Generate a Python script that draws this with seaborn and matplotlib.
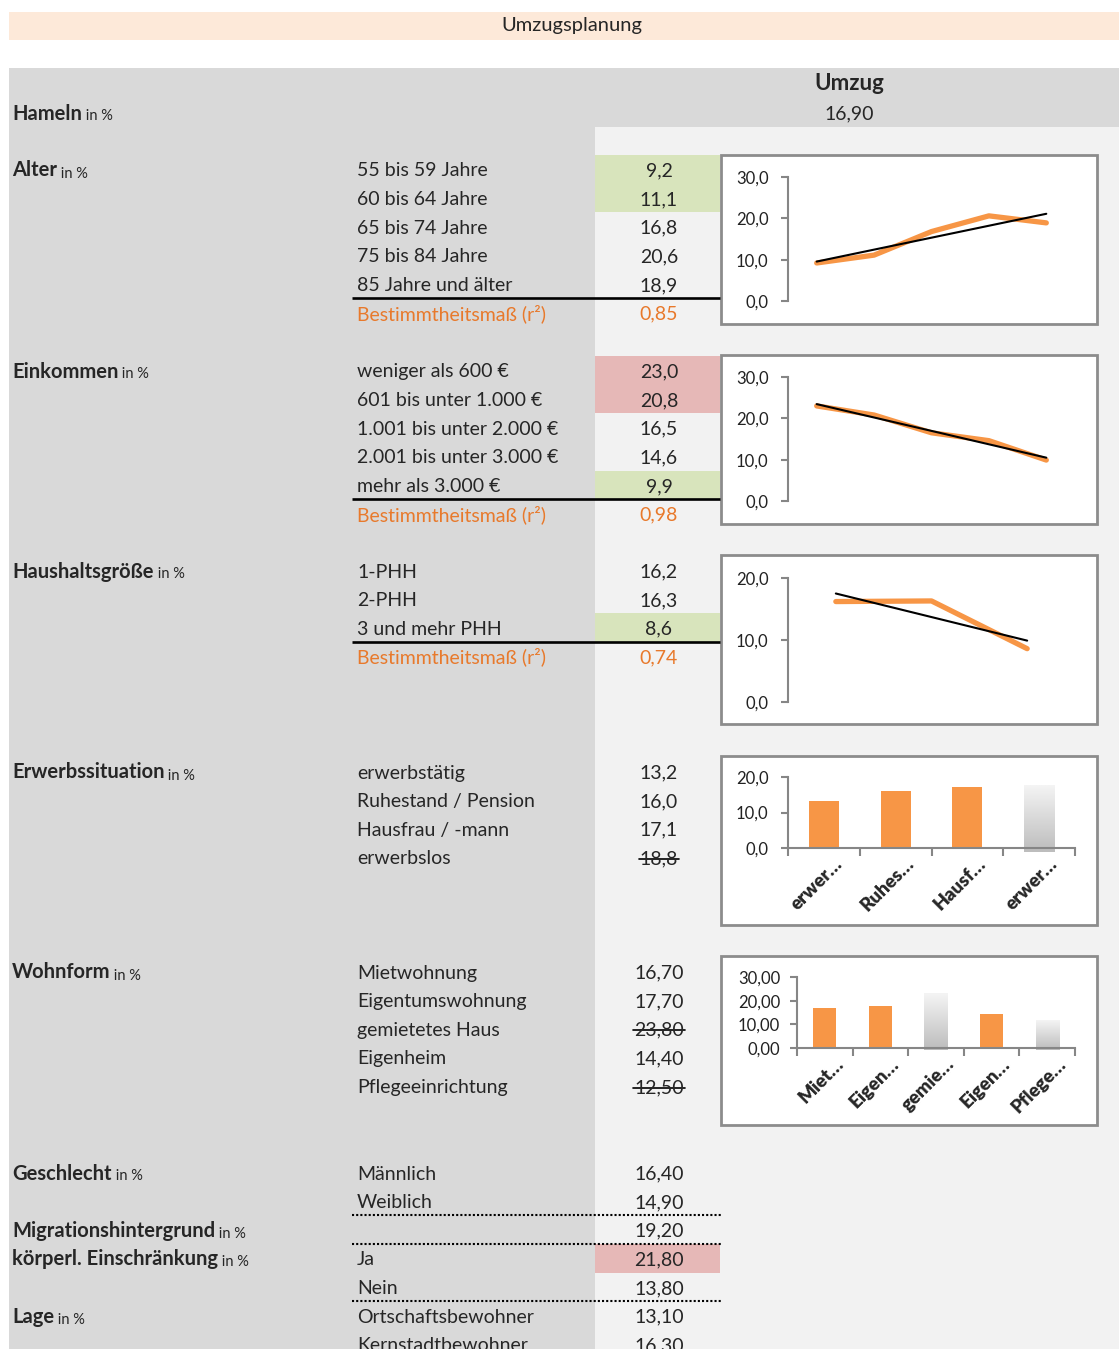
import numpy as np
import pandas as pd
import matplotlib
matplotlib.use("Agg")
import matplotlib.pyplot as plt
import matplotlib.transforms as mtransforms
from matplotlib.patches import Rectangle
from matplotlib.colors import LinearSegmentedColormap
from matplotlib.ticker import FuncFormatter
import seaborn as sns

# ---------------------------------------------------------------- data
title = "Umzugsplanung"
column_title = "Umzug"
hameln_value = 16.9

alter_labels = ["55 bis 59 Jahre", "60 bis 64 Jahre", "65 bis 74 Jahre",
                "75 bis 84 Jahre", "85 Jahre und älter"]
alter_values = [9.2, 11.1, 16.8, 20.6, 18.9]
alter_r2 = 0.85

einkommen_labels = ["weniger als 600 €", "601 bis unter 1.000 €",
                    "1.001 bis unter 2.000 €", "2.001 bis unter 3.000 €",
                    "mehr als 3.000 €"]
einkommen_values = [23.0, 20.8, 16.5, 14.6, 9.9]
einkommen_r2 = 0.98

haushalt_labels = ["1-PHH", "2-PHH", "3 und mehr PHH"]
haushalt_values = [16.2, 16.3, 8.6]
haushalt_r2 = 0.74

erwerb_labels = ["erwerbstätig", "Ruhestand / Pension", "Hausfrau / -mann", "erwerbslos"]
erwerb_short = ["erwer…", "Ruhes…", "Hausf…", "erwer…"]
erwerb_values = [13.2, 16.0, 17.1, 18.8]
erwerb_excluded = [False, False, False, True]

wohn_labels = ["Mietwohnung", "Eigentumswohnung", "gemietetes Haus",
               "Eigenheim", "Pflegeeinrichtung"]
wohn_short = ["Miet…", "Eigen…", "gemie…", "Eigen…", "Pflege…"]
wohn_values = [16.7, 17.7, 23.8, 14.4, 12.5]
wohn_excluded = [False, False, True, False, True]

geschlecht_labels = ["Männlich", "Weiblich"]
geschlecht_values = [16.4, 14.9]
migration_values = [19.2]
einschr_labels = ["Ja", "Nein"]
einschr_values = [21.8, 13.8]
lage_labels = ["Ortschaftsbewohner", "Kernstadtbewohner"]
lage_values = [13.1, 16.3]

# ---------------------------------------------------------------- style
sns.set_theme(style="white")
plt.rcParams['font.family'] = ['Lato', 'DejaVu Sans']

W, H = 1119, 1349
ORANGE = "#F79646"
ORANGE_TXT = "#E8792B"
GREEN = "#D8E4BC"
RED = "#E6B8B7"
DARK = "#D9D9D9"
LIGHT = "#F2F2F2"
PEACH = "#FDE9D9"
AXGRAY = "#868686"
ROW = 28.65
FS = 14
BASE = 6.5  # baseline offset below a row's centre line

fig = plt.figure(figsize=(W / 100, H / 100), dpi=100)
bg = fig.add_axes([0, 0, 1, 1])
bg.set_xlim(0, W)
bg.set_ylim(H, 0)
bg.axis('off')


def px_axes(x0, y0, x1, y1):
    return fig.add_axes([x0 / W, 1 - y1 / H, (x1 - x0) / W, (y1 - y0) / H])


def de(v, d):
    return f"{v:.{d}f}".replace('.', ',')


def txt(x, y, s, **kw):
    kw.setdefault('fontsize', FS)
    return bg.text(x, y + BASE, s, va='baseline', **kw)


# background blocks
bg.add_patch(Rectangle((9, 12), W - 9, 28, color=PEACH, lw=0))
bg.add_patch(Rectangle((9, 68), W - 9, H - 68, color=DARK, lw=0))
bg.add_patch(Rectangle((595, 127), W - 595, H - 127, color=LIGHT, lw=0))

txt(572, 25, title, fontsize=14.5, ha='center')
txt(849, 83, column_title, fontsize=16, fontweight='bold', ha='center')
txt(849, 113, de(hameln_value, 2), ha='center')


def section_header(y, name):
    t = txt(12, y, name, fontsize=FS + 0.5, fontweight='bold', ha='left')
    bg.annotate(" in %", xy=(1, 0), xycoords=t, fontsize=10.5, ha='left', va='bottom')


struck = []


def rows(y0, labels, values, dec, highlight=None, excluded=None):
    for i, (lab, val) in enumerate(zip(labels, values)):
        y = y0 + i * ROW
        if highlight and i in highlight:
            bg.add_patch(Rectangle((595, y - 15), 125, ROW, color=highlight[i], lw=0))
        txt(357, y, lab, ha='left')
        t = txt(659, y, de(val, dec), ha='center')
        if excluded and excluded[i]:
            struck.append(t)
    return y0 + len(labels) * ROW


def r2_row(y, r2):
    bg.plot([352, 720], [y - 15, y - 15], color='black', lw=1.9, solid_capstyle='butt')
    txt(357, y, "Bestimmtheitsmaß (r²)", color=ORANGE_TXT, ha='left')
    txt(659, y, de(r2, 2), color=ORANGE_TXT, ha='center')


section_header(113, "Hameln")

section_header(170, "Alter")
y = rows(170, alter_labels, alter_values, 1, highlight={0: GREEN, 1: GREEN})
r2_row(y, alter_r2)

section_header(371, "Einkommen")
y = rows(371, einkommen_labels, einkommen_values, 1, highlight={0: RED, 1: RED, 4: GREEN})
r2_row(y, einkommen_r2)

section_header(571, "Haushaltsgröße")
y = rows(571, haushalt_labels, haushalt_values, 1, highlight={2: GREEN})
r2_row(y, haushalt_r2)

section_header(772, "Erwerbssituation")
rows(772, erwerb_labels, erwerb_values, 1, excluded=erwerb_excluded)

section_header(972, "Wohnform")
rows(972, wohn_labels, wohn_values, 2, excluded=wohn_excluded)

y = 1173
section_header(y, "Geschlecht")
y = rows(y, geschlecht_labels, geschlecht_values, 2)
bg.plot([352, 722], [y - 15, y - 15], color='black', lw=1.5, ls=(0, (1, 1)))
section_header(y, "Migrationshintergrund")
y = rows(y, [""], migration_values, 2)
bg.plot([352, 722], [y - 15, y - 15], color='black', lw=1.5, ls=(0, (1, 1)))
section_header(y, "körperl. Einschränkung")
y = rows(y, einschr_labels, einschr_values, 2, highlight={0: RED})
bg.plot([352, 722], [y - 15, y - 15], color='black', lw=1.5, ls=(0, (1, 1)))
section_header(y, "Lage")
rows(y, lage_labels, lage_values, 2)

# ---------------------------------------------------------------- charts
for top in (155, 355, 555, 756, 956):
    bg.add_patch(Rectangle((721, top), 376, 169, facecolor='white',
                           edgecolor='#8C8C8C', lw=2))


def style_axes(ax, ymax, step, dec, pad, bars=False):
    ax.set_facecolor('none')
    ax.set_ylim(0, ymax)
    ax.set_yticks(np.arange(0, ymax + 0.01, step))
    ax.yaxis.set_major_formatter(FuncFormatter(lambda v, p: de(v, dec)))
    for s in ('top', 'right'):
        ax.spines[s].set_visible(False)
    ax.spines['left'].set_color(AXGRAY)
    ax.spines['left'].set_linewidth(1.5)
    ax.tick_params(axis='y', left=True, direction='out', length=5, width=1.5,
                   color=AXGRAY, labelsize=12, pad=pad, labelcolor='#222222')
    ax.set_xlabel('')
    ax.set_ylabel('')
    if bars:
        ax.spines['bottom'].set_color(AXGRAY)
        ax.spines['bottom'].set_linewidth(1.5)
    else:
        ax.spines['bottom'].set_visible(False)
        ax.set_xticks([])


def line_chart(rect, values, ymax):
    ax = px_axes(*rect)
    df = pd.DataFrame({'pos': np.arange(len(values)), 'value': values})
    sns.lineplot(data=df, x='pos', y='value', ax=ax, color=ORANGE, lw=3.8)
    sns.regplot(data=df, x='pos', y='value', ax=ax, scatter=False, ci=None,
                truncate=True, line_kws=dict(color='black', lw=1.5))
    ax.set_xlim(-0.5, len(values) - 0.5)
    style_axes(ax, ymax, 10, 1, 9)
    return ax


line_chart((788, 177, 1075, 301), alter_values, 30)
line_chart((788, 377, 1075, 501), einkommen_values, 30)
line_chart((788, 578, 1075, 702), haushalt_values, 20)

gray_cmap = LinearSegmentedColormap.from_list("fade", ["#BDBDBD", "#F4F4F4"])


def bar_chart(rect, short, values, excluded, ymax, dec, pad):
    ax = px_axes(*rect)
    n = len(values)
    df = pd.DataFrame({'cat': short, 'pos': np.arange(n), 'value': values})
    sns.barplot(data=df, x='pos', y='value', ax=ax, color=ORANGE, saturation=1,
                width=0.42, linewidth=0)
    for p, val, ex in zip(ax.patches, values, excluded):
        if ex:
            p.set_visible(False)
            x0 = p.get_x()
            x1 = x0 + p.get_width()
            bottom = -1.0
            grad = np.linspace(0, 1, 64).reshape(-1, 1)
            ax.imshow(grad, extent=[x0, x1, bottom, bottom + val], origin='lower',
                      cmap=gray_cmap, aspect='auto', clip_on=False, zorder=2)
    ax.set_xlim(-0.5, n - 0.5)
    style_axes(ax, ymax, 10, dec, pad, bars=True)
    ax.set_xticks(np.arange(n))
    ax.set_xticklabels(short, rotation=45, ha='right', va='top',
                       rotation_mode='anchor', fontsize=13.5, fontweight='heavy')
    ax.set_xticks(np.arange(n + 1) - 0.5, minor=True)
    ax.tick_params(axis='x', which='major', bottom=True, length=0, pad=5)
    ax.tick_params(axis='x', which='minor', bottom=True, direction='out',
                   length=6, width=1.5, color=AXGRAY)
    shift = mtransforms.ScaledTranslation(7 / 72, 0, fig.dpi_scale_trans)
    for lab in ax.get_xticklabels():
        lab.set_transform(lab.get_transform() + shift)
    return ax


bar_chart((788, 777, 1075, 848), erwerb_short, erwerb_values, erwerb_excluded, 20, 1, 9)
bar_chart((797, 977, 1075, 1048), wohn_short, wohn_values, wohn_excluded, 30, 2, 7)

# strike through excluded values
fig.canvas.draw()
renderer = fig.canvas.get_renderer()
for t in struck:
    bb = t.get_window_extent(renderer)
    ymid = H - (bb.y0 + bb.y1) / 2
    bg.plot([bb.x0 - 1, bb.x1 + 1], [ymid, ymid], color='black', lw=1.2)

fig.savefig("out.png", dpi=100)
